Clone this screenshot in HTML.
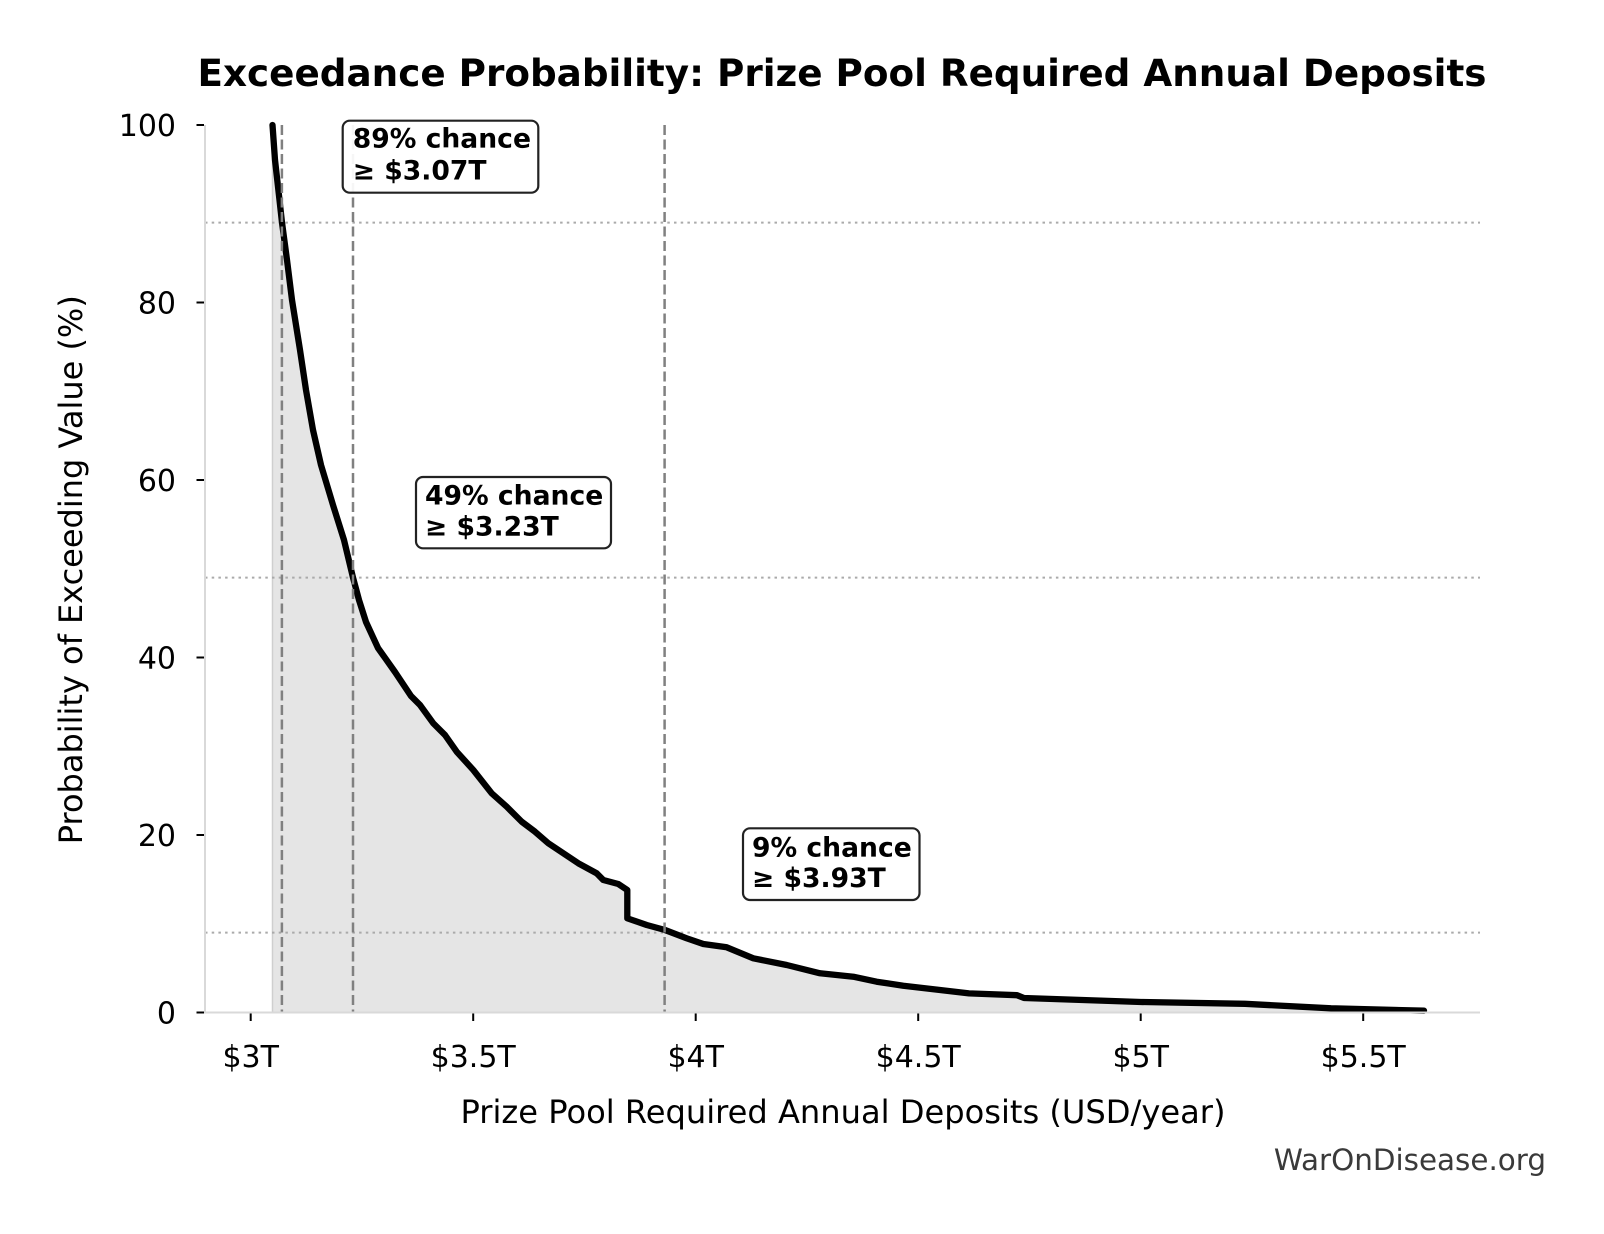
<!DOCTYPE html>
<html><head><meta charset="utf-8"><style>
html,body{margin:0;padding:0;background:#fff;}
svg{display:block;}
text{font-family:"DejaVu Sans","Liberation Sans",sans-serif;}
</style></head><body>
<svg width="1604" height="1234" viewBox="0 0 1604 1234" xmlns="http://www.w3.org/2000/svg">
<rect width="1604" height="1234" fill="#fff"/>
<!-- title -->
<text x="842" y="86" font-size="37.2" font-weight="bold" text-anchor="middle" textLength="1289" lengthAdjust="spacingAndGlyphs" fill="#000">Exceedance Probability: Prize Pool Required Annual Deposits</text>

<!-- fill -->
<path d="M272.5,1012.5 L272.5,125 L275,160 L279.5,200 L282,222.6 L287,260 L292,300 L300,350 L306,390 L313,430 L321,465 L333,505 L344,540 L353,577.6 L359,600 L366,622 L378,648 L395,672 L411,696 L420,705 L433.3,723.3 L445,735 L456.7,751.7 L473.3,770 L491.7,793.3 L506.7,806.7 L521.7,821.7 L535,831.7 L548.3,843.3 L563.3,853.3 L578.3,863.3 L596.7,873.3 L603.3,880 L618.3,884 L627.3,890 L627.3,918.3 L646.7,925 L665,930 L686.7,938.3 L703.3,944 L726.7,947.3 L753.3,958.3 L786.7,965 L820,973.3 L853.3,976.7 L876.7,981.7 L903.3,985.7 L940,990 L969,993.4 L1017,995.2 L1024,998 L1141,1002 L1245,1003.8 L1331,1008.3 L1424,1010.7 L1424,1012.5 Z" fill="#e5e5e5"/>
<line x1="272.5" y1="125" x2="272.5" y2="1012.5" stroke="#cfcfcf" stroke-width="1.5"/>

<!-- horizontal dotted lines -->
<g stroke="#aaaaaa" stroke-width="2" stroke-dasharray="2.5,4.2">
<line x1="205" y1="222.6" x2="1480" y2="222.6"/>
<line x1="205" y1="577.6" x2="1480" y2="577.6"/>
<line x1="205" y1="932.6" x2="1480" y2="932.6"/>
</g>

<!-- curve -->
<path d="M272.5,125 L275,160 L279.5,200 L282,222.6 L287,260 L292,300 L300,350 L306,390 L313,430 L321,465 L333,505 L344,540 L353,577.6 L359,600 L366,622 L378,648 L395,672 L411,696 L420,705 L433.3,723.3 L445,735 L456.7,751.7 L473.3,770 L491.7,793.3 L506.7,806.7 L521.7,821.7 L535,831.7 L548.3,843.3 L563.3,853.3 L578.3,863.3 L596.7,873.3 L603.3,880 L618.3,884 L627.3,890 L627.3,918.3 L646.7,925 L665,930 L686.7,938.3 L703.3,944 L726.7,947.3 L753.3,958.3 L786.7,965 L820,973.3 L853.3,976.7 L876.7,981.7 L903.3,985.7 L940,990 L969,993.4 L1017,995.2 L1024,998 L1141,1002 L1245,1003.8 L1331,1008.3 L1424,1010.7" fill="none" stroke="#000" stroke-width="6.3" stroke-linejoin="round" stroke-linecap="round"/>

<!-- vertical dashed lines -->
<g stroke="#808080" stroke-width="2.5" stroke-dasharray="10,4.5">
<line x1="281.9" y1="125" x2="281.9" y2="1012.5"/>
<line x1="353" y1="125" x2="353" y2="1012.5"/>
<line x1="664.6" y1="125" x2="664.6" y2="1012.5"/>
</g>

<!-- spines -->
<line x1="205" y1="125" x2="205" y2="1013" stroke="#d9d9d9" stroke-width="2"/>
<line x1="204" y1="1012.5" x2="1480" y2="1012.5" stroke="#d9d9d9" stroke-width="2"/>

<!-- y ticks -->
<g stroke="#000" stroke-width="2">
<line x1="196.5" y1="125" x2="204" y2="125"/>
<line x1="196.5" y1="302.5" x2="204" y2="302.5"/>
<line x1="196.5" y1="480" x2="204" y2="480"/>
<line x1="196.5" y1="657.5" x2="204" y2="657.5"/>
<line x1="196.5" y1="835" x2="204" y2="835"/>
<line x1="196.5" y1="1012.5" x2="204" y2="1012.5"/>
</g>
<g font-size="30" text-anchor="end" fill="#000">
<text x="176" y="136">100</text>
<text x="176" y="313.5">80</text>
<text x="176" y="491">60</text>
<text x="176" y="668.5">40</text>
<text x="176" y="846">20</text>
<text x="176" y="1023.5">0</text>
</g>

<!-- x ticks -->
<g stroke="#000" stroke-width="2">
<line x1="250.7" y1="1013.5" x2="250.7" y2="1021"/>
<line x1="473.2" y1="1013.5" x2="473.2" y2="1021"/>
<line x1="695.7" y1="1013.5" x2="695.7" y2="1021"/>
<line x1="918.2" y1="1013.5" x2="918.2" y2="1021"/>
<line x1="1140.7" y1="1013.5" x2="1140.7" y2="1021"/>
<line x1="1363.2" y1="1013.5" x2="1363.2" y2="1021"/>
</g>
<g font-size="30" text-anchor="middle" fill="#000">
<text x="250.7" y="1067">$3T</text>
<text x="473.2" y="1067">$3.5T</text>
<text x="695.7" y="1067">$4T</text>
<text x="918.2" y="1067">$4.5T</text>
<text x="1140.7" y="1067">$5T</text>
<text x="1363.2" y="1067">$5.5T</text>
</g>

<!-- axis labels -->
<text x="843" y="1123" font-size="32" text-anchor="middle" textLength="765" lengthAdjust="spacingAndGlyphs" fill="#000">Prize Pool Required Annual Deposits (USD/year)</text>
<text transform="translate(82,569.7) rotate(-90)" x="0" y="0" font-size="32" text-anchor="middle" textLength="549" lengthAdjust="spacingAndGlyphs" fill="#000">Probability of Exceeding Value (%)</text>

<!-- annotation boxes -->
<g stroke="#222" stroke-width="2.2" fill="#fff" fill-opacity="0.93">
<rect x="342.7" y="120.7" width="195.6" height="72" rx="7" ry="7"/>
<rect x="416" y="477" width="195" height="71.3" rx="7" ry="7"/>
<rect x="743" y="828.3" width="176.5" height="71.7" rx="7" ry="7"/>
</g>
<g font-size="26.6" font-weight="bold" fill="#000">
<text x="352.7" y="147.7">89% chance</text>
<text x="352.7" y="179.3">≥ $3.07T</text>
<text x="425" y="504.3">49% chance</text>
<text x="425" y="535.7">≥ $3.23T</text>
<text x="752" y="856.5">9% chance</text>
<text x="752" y="887">≥ $3.93T</text>
</g>

<!-- watermark -->
<text x="1546" y="1170" font-size="29.4" text-anchor="end" fill="#3a3a3a">WarOnDisease.org</text>
</svg>
</body></html>
